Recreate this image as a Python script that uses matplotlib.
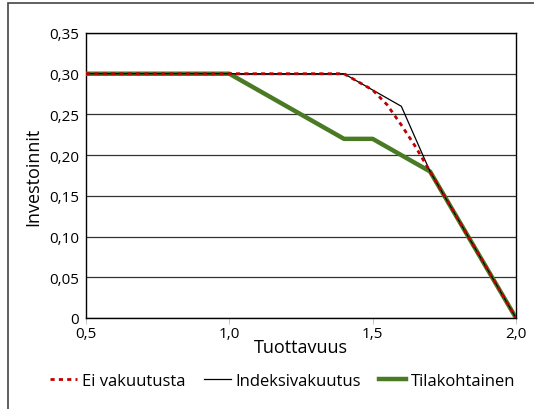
import matplotlib
matplotlib.use("Agg")
import matplotlib.pyplot as plt
from matplotlib.patches import Rectangle
from matplotlib.lines import Line2D

plt.rcParams['font.family'] = ['Open Sans', 'DejaVu Sans']

x_ei = [0.5, 1.4, 1.5, 1.55, 1.6, 1.65, 1.7, 2.0]
y_ei = [0.30, 0.30, 0.28, 0.262, 0.237, 0.21, 0.18, 0.0]
x_ind = [0.5, 1.4, 1.6, 1.7, 2.0]
y_ind = [0.30, 0.30, 0.26, 0.18, 0.0]
x_til = [0.5, 1.0, 1.4, 1.5, 1.7, 2.0]
y_til = [0.30, 0.30, 0.22, 0.22, 0.18, 0.0]
xticks = [0.5, 1.0, 1.5, 2.0]
xticklabels = ["0,5", "1,0", "1,5", "2,0"]
yticks = [0, 0.05, 0.10, 0.15, 0.20, 0.25, 0.30, 0.35]
yticklabels = ["0", "0,05", "0,10", "0,15", "0,20", "0,25", "0,30", "0,35"]

W, H = 534, 410
fig = plt.figure(figsize=(W / 100, H / 100), dpi=100)
fig.patches.append(Rectangle((8 / W, -0.1), 1.2, 1 - 4 / H + 0.1, transform=fig.transFigure,
                             fill=False, edgecolor='#444444', linewidth=1.2))
ax = fig.add_axes([86 / W, 1 - 319 / H, (516 - 86) / W, (319 - 34) / H])

ax.plot(x_til, y_til, color='#4a7a23', linewidth=3.2, label='Tilakohtainen', zorder=3)
ax.plot(x_ind, y_ind, color='black', linewidth=0.9, label='Indeksivakuutus', zorder=4)
ax.plot(x_ei, y_ei, color='#c00000', linewidth=2.0, linestyle=(0, (1.5, 1.5)), label='Ei vakuutusta', zorder=5)

ax.set_xlim(0.5, 2.0)
ax.set_ylim(0, 0.35)
ax.set_xticks(xticks)
ax.set_xticklabels(xticklabels, fontsize=11)
ax.set_yticks(yticks)
ax.set_yticklabels(yticklabels, fontsize=11)
ax.tick_params(axis='y', length=0, pad=5)
ax.tick_params(axis='x', length=4, width=0.6, color='#bbbbbb', pad=1.5)
ax.yaxis.grid(True, color='#333333', linewidth=0.9)
ax.set_axisbelow(True)
for s in ax.spines.values():
    s.set_color('black')
    s.set_linewidth(1.0)

ax.set_xlabel("Tuottavuus", fontsize=13, labelpad=-2)
ax.set_ylabel("Investoinnit", fontsize=13, labelpad=5)

handles = [Line2D([], [], color='#c00000', linewidth=2.0, linestyle=(0, (1.5, 1.5))),
           Line2D([], [], color='black', linewidth=0.9),
           Line2D([], [], color='#4a7a23', linewidth=3.2)]
labels = ['Ei vakuutusta', 'Indeksivakuutus', 'Tilakohtainen']
fig.legend(handles, labels, loc='center', bbox_to_anchor=(0.53, 1 - 382 / H), ncol=3,
           frameon=False, fontsize=12, handlelength=1.6, handletextpad=0.3, columnspacing=1.1,
           borderaxespad=0, borderpad=0)

fig.savefig("out.png", dpi=100)
